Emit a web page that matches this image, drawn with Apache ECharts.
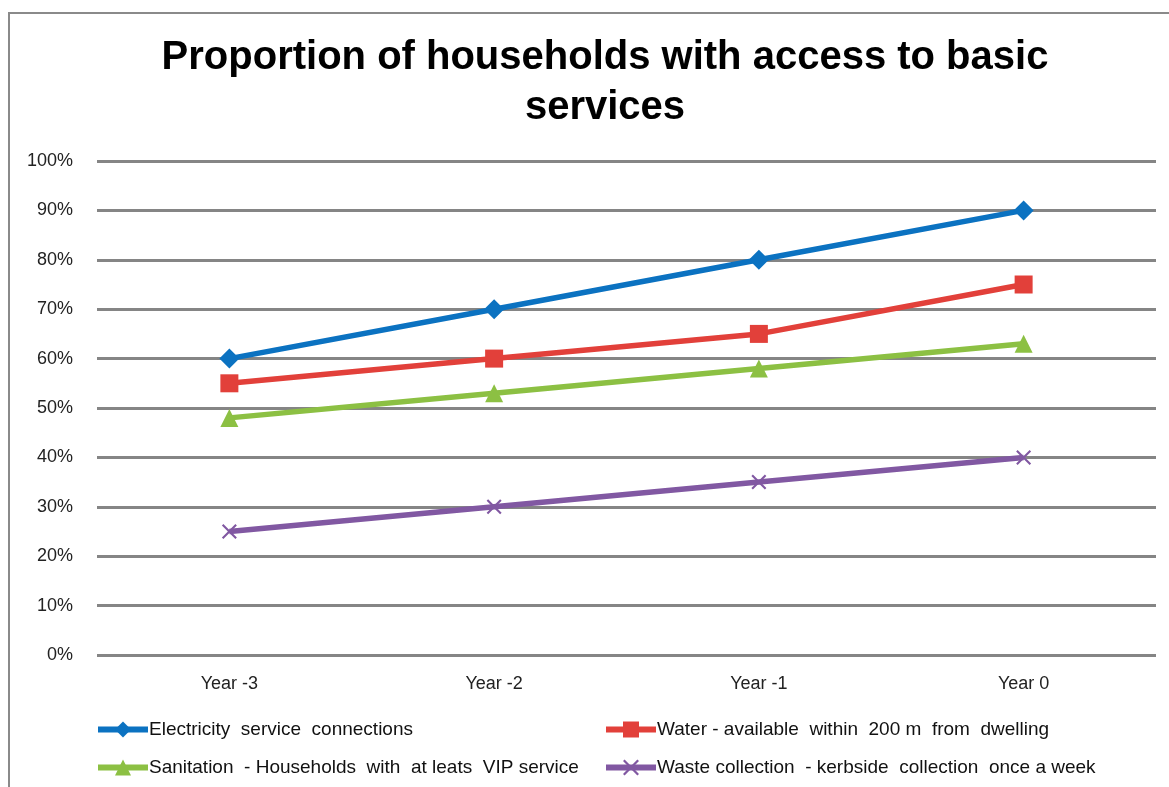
<!DOCTYPE html>
<html>
<head>
<meta charset="utf-8">
<script src="https://cdn.jsdelivr.net/npm/echarts@6/dist/echarts.min.js"></script>
<style>html,body{margin:0;padding:0;background:#fff;}#c{width:1169px;height:787px;}</style>
</head>
<body>
<div id="c"></div>
<script>
const categories = ['Year -3', 'Year -2', 'Year -1', 'Year 0'];
const electricity = [60, 70, 80, 90];
const water = [55, 60, 65, 75];
const sanitation = [48, 53, 58, 63];
const waste = [25, 30, 35, 40];
const seriesNames = [
  'Electricity  service  connections',
  'Water - available  within  200 m  from  dwelling',
  'Sanitation  - Households  with  at leats  VIP service',
  'Waste collection  - kerbside  collection  once a week'
];
const titleText = 'Proportion of households with access to basic\nservices';

const sans = '"Liberation Sans", Arial, sans-serif';
const crossPath = 'path://M0,1 L1,0 L5,4 L9,0 L10,1 L6,5 L10,9 L9,10 L5,6 L1,10 L0,9 L4,5 Z';
const colors = ['#0B72C1', '#E2403A', '#8CC043', '#8158A2'];

const chart = echarts.init(document.getElementById('c'), null, {renderer: 'canvas'});
const mk = (name, data, color, symbol, size) => ({
  name, type: 'line', data, symbol, symbolSize: size,
  lineStyle: {color, width: 5.5}, itemStyle: {color},
  emphasis: {disabled: true}
});
const leg = (idx, left, top) => ({
  data: [seriesNames[idx]], left, top, padding: 0,
  itemWidth: 50, itemHeight: 20, itemGap: 0,
  lineStyle: {width: 6},
  textStyle: {fontFamily: sans, fontSize: 19, color: '#111', padding: [0, 0, 0, -4]}
});
chart.setOption({
  animation: false,
  backgroundColor: '#fff',
  graphic: [{
    type: 'rect', shape: {x: 9, y: 13, width: 1300, height: 900},
    style: {fill: 'none', stroke: '#8a8a8a', lineWidth: 2}, silent: true
  }],
  title: {
    text: titleText, left: 600, textAlign: 'center', top: 28,
    textStyle: {fontFamily: sans, fontWeight: 'bold', fontSize: 40, lineHeight: 50, color: '#000'}
  },
  grid: {left: 97, right: 13, top: 161, bottom: 132, containLabel: false},
  xAxis: {
    type: 'category', data: categories, boundaryGap: true,
    axisLine: {show: false}, axisTick: {show: false},
    axisLabel: {margin: 20, fontSize: 18, fontFamily: sans, color: '#222'}
  },
  yAxis: {
    type: 'value', min: 0, max: 100, interval: 10,
    axisLabel: {formatter: '{value}%', margin: 24, fontSize: 18, fontFamily: sans, color: '#222'},
    splitLine: {lineStyle: {color: '#858585', width: 3}},
    axisLine: {show: false}, axisTick: {show: false}
  },
  legend: [leg(0, 95, 720), leg(2, 95, 758), leg(1, 603, 720), leg(3, 603, 758)],
  series: [
    mk(seriesNames[0], electricity, colors[0], 'diamond', 20),
    mk(seriesNames[1], water, colors[1], 'rect', 18),
    mk(seriesNames[2], sanitation, colors[2], 'triangle', 18),
    mk(seriesNames[3], waste, colors[3], crossPath, 15)
  ]
});
</script>
</body>
</html>
